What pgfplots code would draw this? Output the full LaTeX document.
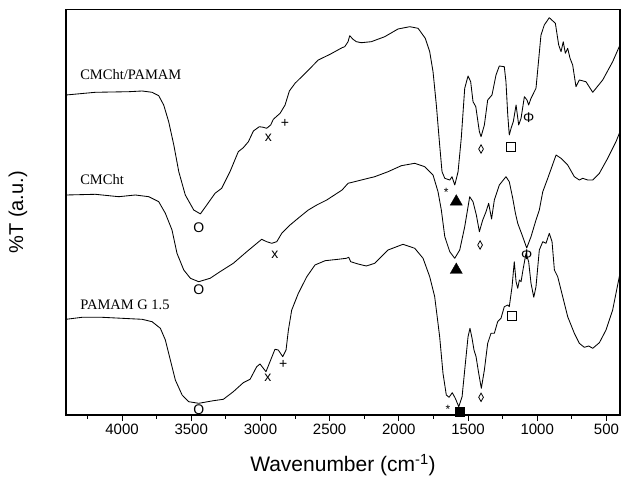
\documentclass[border=0pt]{standalone}
\usepackage{fontspec}
\setmainfont{Liberation Serif}
\setsansfont{Liberation Sans}
\usepackage{pgfplots}
\pgfplotsset{compat=1.18}
\begin{document}
\begin{tikzpicture}
\begin{axis}[
  at={(0,0)}, anchor=south west,
  scale only axis, width=554bp, height=405.3bp,
  x dir=reverse, xmin=402, xmax=4405, ymin=0, ymax=405.3,
  axis line style={line width=1.3bp},
  xtick={500,1000,...,4000}, minor xtick={750,1250,...,4250},
  xtick pos=bottom, tick align=outside, ytick=\empty,
  major tick length=6bp, minor tick length=3.5bp,
  every tick/.style={black, line width=0.8bp},
  xticklabel style={font=\sffamily\fontsize{15bp}{18bp}\selectfont},
  /pgf/number format/assume math mode=true,
  /pgf/number format/1000 sep={},
  xlabel={Wavenumber (cm\textsuperscript{-1})},
  xlabel style={font=\sffamily\fontsize{21bp}{24bp}\selectfont, at={(axis description cs:0.5,-0.1234)}, anchor=center},
  ylabel={\%T (a.u.)},
  ylabel style={font=\sffamily\fontsize{20bp}{24bp}\selectfont, at={(axis description cs:-0.0866,0.5)}, anchor=center},
  clip=false,
]
% CMCht/PAMAM
\addplot[black, line width=0.85bp, line join=round] coordinates {
(4404,320)(4193,322.7)(3952,323.3)(3855,324)(3783,322.7)(3735,319.3)(3699,310)(3663,293.3)(3626,270)(3590,243.3)(3543,220)(3482,205)(3434,201.1)(3388,210)(3328,221.7)(3280,226.7)(3220,243.3)(3160,263.3)(3124,267.3)(3087,273.3)(3051,284)(3008,288.3)(2979,287.7)(2955,286.7)(2926,290)(2907,295.7)(2858,301.7)(2822,310)(2791,324)(2750,331.7)(2665,343.3)(2582,355)(2497,360.7)(2410,367.3)(2391,368.3)(2367,373.3)(2355,379.3)(2331,375.7)(2307,373.3)(2271,372.3)(2199,373.3)(2102,378.3)(2006,386)(1921,388.3)(1861,386.7)(1809,376.7)(1777,363.3)(1753,343.3)(1729,310)(1705,270)(1688,243.3)(1668,236.7)(1632,235)(1616,238.3)(1596,230)(1572,243.3)(1549,276.7)(1524,326.7)(1500,339)(1481,333.3)(1464,313.3)(1444,308.3)(1418,283.3)(1406,278.3)(1382,290)(1358,315)(1327,320)(1298,340)(1274,349)(1238,348.3)(1226,333.3)(1213,300)(1202,280)(1189,286.7)(1173,293.3)(1153,310)(1134,290)(1117,296.7)(1093,318.3)(1074,315)(1062,310)(1045,316.7)(1009,326.7)(973,380)(949,390)(913,397.3)(869,391.7)(845,370)(828,363.3)(812,373.3)(797,361.7)(780,366.7)(763,356.7)(744,350)(720,328.3)(696,335)(648,333.3)(599,322.7)(527,335)(455,353.3)(402,370)
};
% CMCht
\addplot[black, line width=0.85bp, line join=round] coordinates {
(4404,220)(4193,220.7)(4024,218.3)(3904,220)(3807,218.3)(3735,213.3)(3687,201.7)(3639,185)(3603,161.7)(3554,145)(3506,136.7)(3446,133.3)(3364,136.7)(3292,143.3)(3196,151.7)(3099,163.3)(2991,175.7)(2955,173.3)(2918,171.7)(2882,173.3)(2846,181.7)(2786,190)(2714,198.3)(2654,205)(2593,210)(2521,215)(2410,225)(2367,231.7)(2271,235)(2174,238.3)(2078,243.3)(1982,249.3)(1885,251.7)(1813,248.3)(1753,240)(1717,223.3)(1693,205)(1668,178.3)(1632,163.3)(1596,156.7)(1560,165)(1524,188.3)(1488,218.3)(1464,213.3)(1440,200)(1418,183.3)(1394,195)(1370,203.3)(1351,211.7)(1330,196)(1310,215)(1274,230)(1226,238.3)(1202,233.3)(1177,216.7)(1158,202)(1141,191.7)(1105,178.3)(1076,167)(1045,178.3)(1009,195)(985,205)(960,223.3)(924,236.7)(864,260)(828,256.7)(780,250)(732,238.3)(696,235)(671,236.7)(635,235)(599,235)(551,241.7)(491,256.7)(431,273.3)(402,283.3)
};
% PAMAM G 1.5
\addplot[black, line width=0.85bp, line join=round] coordinates {
(4404,95.7)(4289,97.7)(4144,97.7)(4000,96.7)(3855,95.7)(3783,93.3)(3723,86.7)(3687,75)(3651,55)(3615,35)(3566,20)(3518,13.3)(3446,11.7)(3340,14.3)(3268,15.7)(3196,23.3)(3124,32.3)(3075,35.7)(3027,48.3)(3003,51)(2979,46.7)(2960,43.3)(2931,53.3)(2895,65.7)(2871,65)(2839,58.3)(2815,65)(2798,85)(2774,105)(2726,121.7)(2665,138.3)(2606,150)(2533,154.3)(2439,155.7)(2379,156.7)(2362,157.7)(2348,153.3)(2295,151)(2235,149)(2174,151.7)(2078,165)(1970,170.7)(1885,166.7)(1825,156.7)(1777,138.3)(1741,118.3)(1705,78.3)(1681,41.7)(1657,20)(1637,17.7)(1614,22.3)(1592,16.7)(1567,8.3)(1543,18.3)(1524,45)(1500,78.3)(1486,86.7)(1471,76.7)(1457,65)(1442,58.3)(1423,41.7)(1404,26.7)(1382,45)(1358,71.7)(1334,81.7)(1310,81.7)(1286,93.3)(1262,96.7)(1238,108.3)(1213,110)(1202,108.3)(1182,128.3)(1166,153.3)(1153,133.3)(1141,126.7)(1129,135)(1117,133.3)(1101,146.7)(1081,161.7)(1062,153.3)(1045,131.7)(1025,117.7)(1009,128.3)(985,165)(960,173.3)(937,171.7)(913,181.7)(893,173.3)(876,145)(852,138.3)(816,118.3)(780,98.3)(732,81.7)(696,71.7)(660,67.7)(628,69)(599,66.7)(551,72.3)(503,85)(455,105)(402,141.7)
};
% symbols
\addplot[only marks, mark=triangle*, mark size=7bp, black] coordinates {(1585,213.3)(1585,145)};
\addplot[only marks, mark=square*, mark size=4.3bp, black] coordinates {(1560,3.3)};
\addplot[only marks, mark=square, mark size=4.2bp, black, mark options={line width=0.7bp}] coordinates {(1190,268.3)(1184,99)};
\addplot[only marks, mark=diamond, mark size=4.2bp, black, mark options={xscale=0.75, line width=0.8bp}] coordinates {(1406,266)(1413,170)(1406,17.7)};
\addplot[only marks, mark=text, text mark={O}, text mark as node=true, text mark style={font=\sffamily\fontsize{14bp}{14bp}\selectfont, inner sep=0pt}] coordinates {(3446,187)(3446,125)(3446,5)};
\addplot[only marks, mark=text, text mark={x}, text mark as node=true, text mark style={font=\sffamily\fontsize{14bp}{14bp}\selectfont, inner sep=0pt}] coordinates {(2943,276.7)(2895,160)(2947,36.7)};
\addplot[only marks, mark=text, text mark={+}, text mark as node=true, text mark style={font=\sffamily\fontsize{14bp}{14bp}\selectfont, inner sep=0pt}] coordinates {(2822,291.7)(2835,51)};
\addplot[only marks, mark=text, text mark={*}, text mark as node=true, text mark style={font=\sffamily\fontsize{12bp}{12bp}\selectfont, inner sep=0pt}] coordinates {(1657,222.7)(1645,6)};
\addplot[only marks, mark=text, text mark={Φ}, text mark as node=true, text mark style={font=\sffamily\fontsize{14bp}{14bp}\selectfont, inner sep=0pt}] coordinates {(1062,297.3)(1076,160.7)};
% curve labels
\node[anchor=west, inner sep=0pt, font=\fontsize{14.5bp}{16bp}\selectfont] at (axis cs:4303,340) {CMCht/PAMAM};
\node[anchor=west, inner sep=0pt, font=\fontsize{14.5bp}{16bp}\selectfont] at (axis cs:4303,235) {CMCht};
\node[anchor=west, inner sep=0pt, font=\fontsize{14.5bp}{16bp}\selectfont] at (axis cs:4303,110) {PAMAM G 1.5};
\end{axis}
\pgfresetboundingbox
\path[use as bounding box] (-66bp,-74bp) rectangle (555bp,415bp);
\end{tikzpicture}
\end{document}
